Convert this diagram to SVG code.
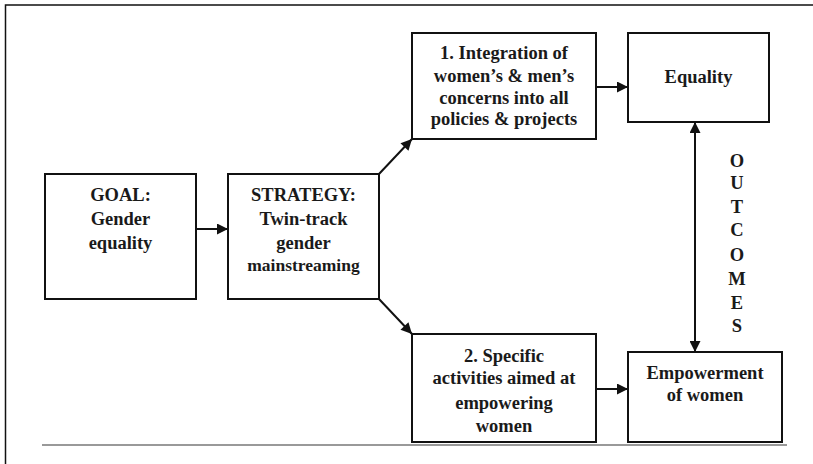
<svg xmlns="http://www.w3.org/2000/svg" width="813" height="464" viewBox="0 0 813 464">
<style>
.box{fill:#fff;stroke:#111;stroke-width:2}
.t{font-family:"Liberation Serif","DejaVu Serif",serif;font-weight:bold;font-size:18.5px;fill:#1a1a1a;text-anchor:middle}
.c{stroke:#111;stroke-width:2;fill:none}
</style>
<defs>
<marker id="ah" viewBox="0 0 10 10" refX="10" refY="5" markerWidth="6" markerHeight="5.5" orient="auto-start-reverse" markerUnits="strokeWidth">
<path d="M0,0 L10,5 L0,10 z" fill="#111"/>
</marker>
</defs>
<rect width="813" height="464" fill="#fff"/>
<path d="M5.5,464 V5 H813" stroke="#111" stroke-width="1.5" fill="none"/>
<line x1="42" y1="445" x2="787" y2="445" stroke="#777" stroke-width="1.5"/>
<g id="connectors">
<line class="c" x1="196" y1="229" x2="228" y2="229" marker-end="url(#ah)"/>
<line class="c" x1="379" y1="174" x2="412" y2="139" marker-end="url(#ah)"/>
<line class="c" x1="379" y1="299" x2="412" y2="334" marker-end="url(#ah)"/>
<line class="c" x1="596" y1="87" x2="628" y2="87" marker-end="url(#ah)"/>
<line class="c" x1="596" y1="389" x2="628" y2="389" marker-end="url(#ah)"/>
<line class="c" x1="695" y1="122" x2="695" y2="352" marker-start="url(#ah)" marker-end="url(#ah)"/>
</g>
<g id="goal">
<rect class="box" x="45" y="174" width="151" height="125"/>
<text class="t" x="120.5" y="201">GOAL:</text>
<text class="t" x="120.5" y="225">Gender</text>
<text class="t" x="120.5" y="249">equality</text>
</g>
<g id="strategy">
<rect class="box" x="228" y="174" width="151" height="125"/>
<text class="t" x="303.5" y="201">STRATEGY:</text>
<text class="t" x="303.5" y="225">Twin-track</text>
<text class="t" x="303.5" y="249">gender</text>
<text class="t" x="303.5" y="271" style="font-size:17.5px">mainstreaming</text>
</g>
<g id="integration">
<rect class="box" x="412" y="33" width="184" height="106"/>
<text class="t" x="504" y="59">1. Integration of</text>
<text class="t" x="504" y="82">women’s &amp; men’s</text>
<text class="t" x="504" y="104">concerns into all</text>
<text class="t" x="504" y="125">policies &amp; projects</text>
</g>
<g id="equality">
<rect class="box" x="628" y="33" width="141" height="89"/>
<text class="t" x="698.5" y="83">Equality</text>
</g>
<g id="specific">
<rect class="box" x="412" y="334" width="184" height="108"/>
<text class="t" x="504" y="362">2. Specific</text>
<text class="t" x="504" y="384">activities aimed at</text>
<text class="t" x="504" y="409">empowering</text>
<text class="t" x="504" y="432">women</text>
</g>
<g id="empowerment">
<rect class="box" x="628" y="352" width="154" height="90"/>
<text class="t" x="705" y="379">Empowerment</text>
<text class="t" x="705" y="401">of women</text>
</g>
<g id="outcomes">
<text class="t" x="737" y="167">O</text>
<text class="t" x="737" y="189">U</text>
<text class="t" x="737" y="213">T</text>
<text class="t" x="737" y="236">C</text>
<text class="t" x="737" y="261">O</text>
<text class="t" x="737" y="285">M</text>
<text class="t" x="737" y="309">E</text>
<text class="t" x="737" y="332">S</text>
</g>
</svg>
